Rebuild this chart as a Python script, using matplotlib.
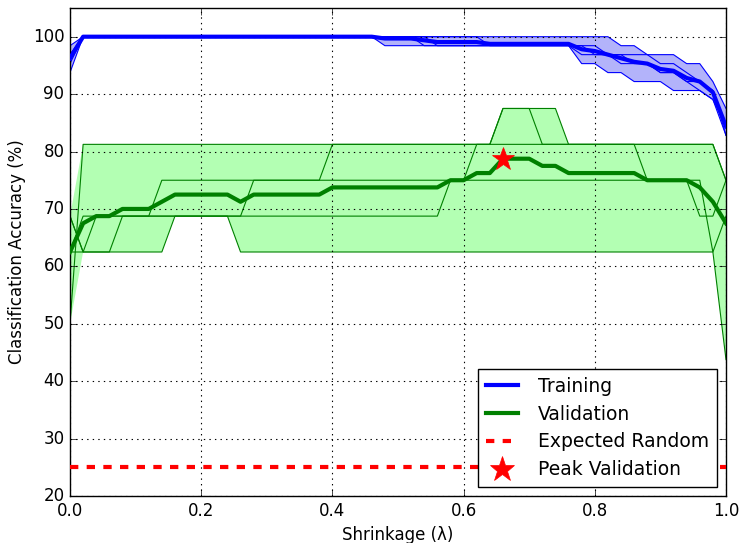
import numpy as np
import matplotlib
matplotlib.use("Agg")
import matplotlib.pyplot as plt

# Shrinkage values swept
shrinkage = np.linspace(0.0, 1.0, 51)

n_train = 64   # samples per training fold
n_val = 16     # samples per validation fold
chance_level = 25.0

# Correctly classified validation samples per fold (5-fold CV)
val_correct = [
    [8, 13, 13, 13, 13, 13, 13, 13, 13, 13,
     13, 13, 13, 13, 13, 13, 13, 13, 13, 13,
     13, 13, 13, 13, 13, 13, 13, 13, 13, 13,
     13, 13, 13, 14, 14, 14, 13, 13, 13, 13,
     13, 13, 13, 13, 13, 13, 13, 13, 13, 13, 12],
    [11, 10, 11, 11, 11, 11, 11, 11, 11, 11,
     11, 11, 11, 10, 10, 10, 10, 10, 10, 10,
     10, 10, 10, 10, 10, 10, 10, 10, 10, 10,
     10, 10, 10, 10, 10, 10, 10, 10, 10, 10,
     10, 10, 10, 10, 10, 10, 10, 10, 10, 10, 11],
    [10, 11, 11, 11, 11, 11, 11, 12, 12, 12,
     12, 12, 12, 12, 12, 12, 12, 12, 12, 12,
     13, 13, 13, 13, 13, 13, 13, 13, 13, 13,
     13, 13, 13, 14, 14, 14, 14, 14, 13, 13,
     13, 13, 13, 13, 13, 13, 13, 13, 13, 13, 12],
    [11, 10, 10, 10, 11, 11, 11, 11, 11, 11,
     11, 11, 11, 11, 12, 12, 12, 12, 12, 12,
     12, 12, 12, 12, 12, 12, 12, 12, 12, 12,
     12, 13, 13, 13, 13, 13, 13, 13, 13, 13,
     13, 13, 13, 13, 12, 12, 12, 12, 11, 11, 12],
    [10, 10, 10, 10, 10, 10, 10, 10, 11, 11,
     11, 11, 11, 11, 11, 11, 11, 11, 11, 11,
     11, 11, 11, 11, 11, 11, 11, 11, 11, 12,
     12, 12, 12, 12, 12, 12, 12, 12, 12, 12,
     12, 12, 12, 12, 12, 12, 12, 12, 12, 10, 7],
]

# Correctly classified training samples per fold
train_correct = [
    [60, 64, 64, 64, 64, 64, 64, 64, 64, 64,
     64, 64, 64, 64, 64, 64, 64, 64, 64, 64,
     64, 64, 64, 64, 63, 63, 63, 63, 63, 63,
     63, 63, 63, 63, 63, 63, 63, 63, 63, 61,
     61, 60, 60, 59, 59, 59, 58, 58, 58, 57, 53],
    [62, 64, 64, 64, 64, 64, 64, 64, 64, 64,
     64, 64, 64, 64, 64, 64, 64, 64, 64, 64,
     64, 64, 64, 64, 64, 64, 64, 63, 63, 63,
     63, 63, 63, 63, 63, 63, 63, 63, 63, 63,
     62, 62, 62, 61, 61, 60, 60, 59, 58, 57, 54],
    [63, 64, 64, 64, 64, 64, 64, 64, 64, 64,
     64, 64, 64, 64, 64, 64, 64, 64, 64, 64,
     64, 64, 64, 64, 64, 64, 64, 64, 63, 63,
     63, 63, 63, 63, 63, 63, 63, 63, 63, 63,
     63, 62, 62, 62, 62, 61, 61, 60, 59, 58, 54],
    [62, 64, 64, 64, 64, 64, 64, 64, 64, 64,
     64, 64, 64, 64, 64, 64, 64, 64, 64, 64,
     64, 64, 64, 64, 64, 64, 64, 64, 64, 64,
     64, 64, 63, 63, 63, 63, 63, 63, 63, 62,
     62, 62, 61, 61, 61, 60, 60, 59, 59, 58, 53],
    [61, 64, 64, 64, 64, 64, 64, 64, 64, 64,
     64, 64, 64, 64, 64, 64, 64, 64, 64, 64,
     64, 64, 64, 64, 64, 64, 64, 64, 64, 64,
     64, 64, 64, 64, 64, 64, 64, 64, 64, 64,
     64, 64, 63, 63, 62, 62, 62, 61, 61, 59, 56],
]

train_acc = 100.0 * np.array(train_correct) / n_train
val_acc = 100.0 * np.array(val_correct) / n_val
train_mean = train_acc.mean(axis=0)
val_mean = val_acc.mean(axis=0)
peak = int(np.argmax(val_mean))

plt.style.use("classic")
plt.rcParams["font.family"] = ["DejaVu Sans"]

fig = plt.figure(figsize=(7.4, 5.43), dpi=100, facecolor="white")
ax = fig.add_axes([70 / 740, 47 / 543, 656 / 740, 488 / 543])

# Spread across folds
ax.fill_between(shrinkage, train_acc.min(axis=0), train_acc.max(axis=0),
                facecolor="#b3b3fa", edgecolor="none", zorder=1)
ax.fill_between(shrinkage, val_acc.min(axis=0), val_acc.max(axis=0),
                facecolor="#b3ffb3", edgecolor="none", zorder=1)
for fold in train_acc:
    ax.plot(shrinkage, fold, color="b", lw=0.8, zorder=2)
for fold in val_acc:
    ax.plot(shrinkage, fold, color="g", lw=0.8, zorder=2)

ax.plot(shrinkage, train_mean, color="b", lw=3, label="Training", zorder=3)
ax.plot(shrinkage, val_mean, color="g", lw=3, label="Validation", zorder=3)
ax.plot([shrinkage[0], shrinkage[-1]], [chance_level, chance_level], "r--",
        lw=3, label="Expected Random", zorder=3)
ax.plot(shrinkage[peak], val_mean[peak], "r*", ms=17, mec="r",
        label="Peak Validation", zorder=4)

ax.set_xlim(0, 1)
ax.set_ylim(20, 105)
ax.set_xticks([0.0, 0.2, 0.4, 0.6, 0.8, 1.0])
ax.set_yticks([20, 30, 40, 50, 60, 70, 80, 90, 100])
ax.grid(True, color="k", linestyle=":", linewidth=0.8)
ax.tick_params(direction="in", length=5, labelsize=12)
ax.set_xlabel("Shrinkage (λ)", fontsize=12)
ax.set_ylabel("Classification Accuracy (%)", fontsize=12)

ax.legend(loc="lower right", numpoints=1, fontsize=13.5, fancybox=False,
          handlelength=1.75, handletextpad=1.05, borderpad=0.4,
          labelspacing=0.47, markerscale=1.1)

fig.savefig("out.png", dpi=100, facecolor="white")
